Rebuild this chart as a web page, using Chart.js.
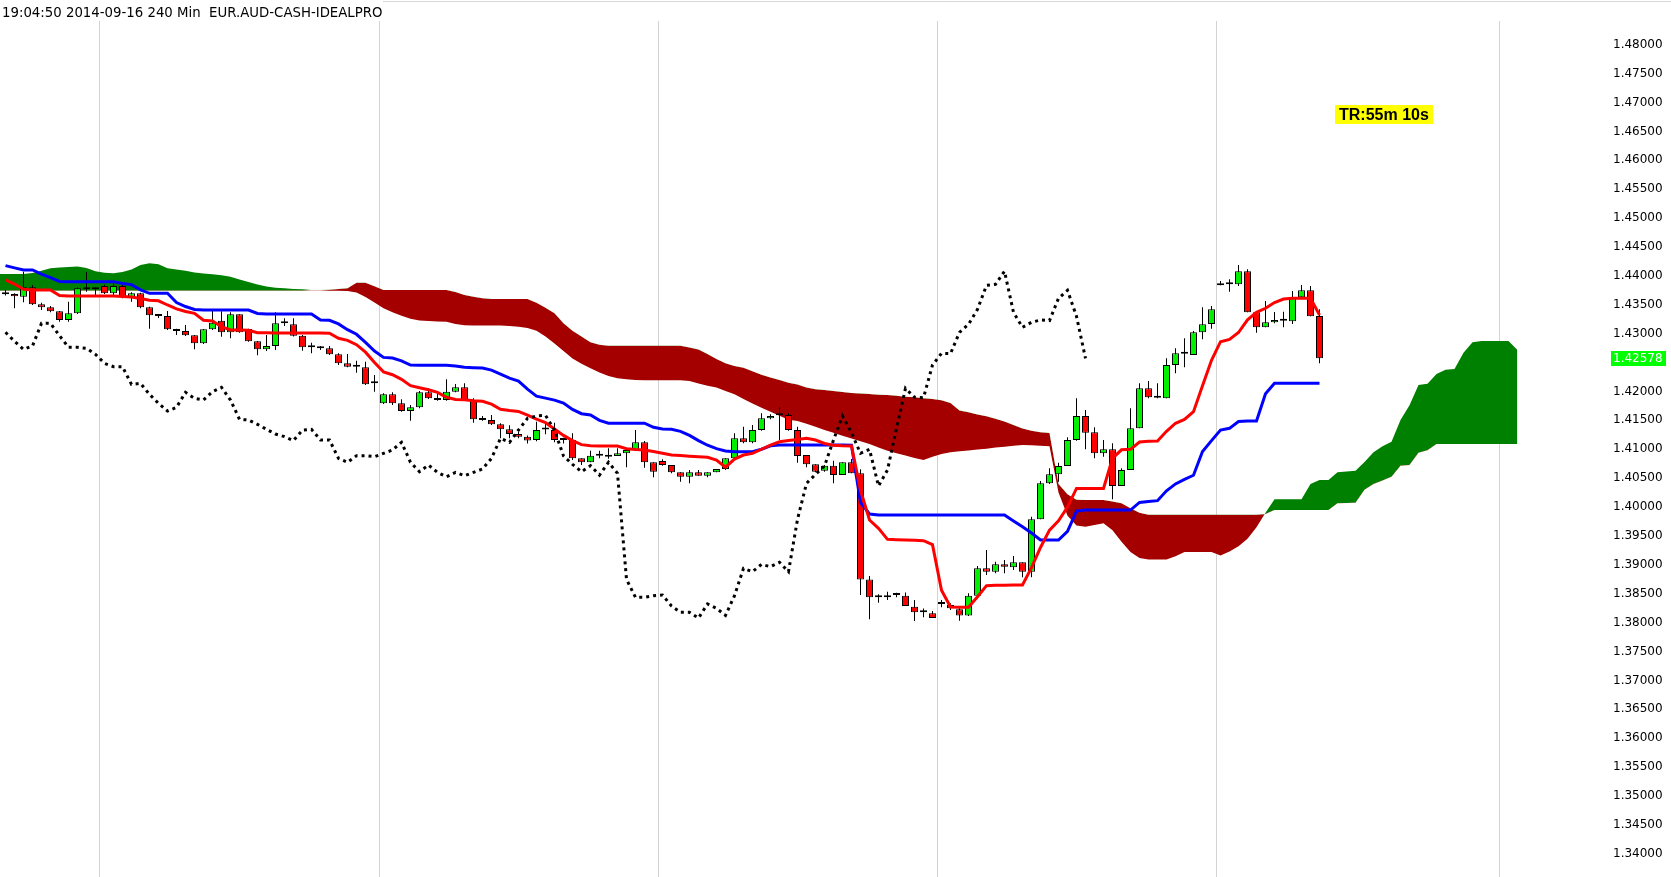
<!DOCTYPE html>
<html><head><meta charset="utf-8">
<script src="https://cdn.jsdelivr.net/npm/chart.js@4.4.1/dist/chart.umd.min.js"></script>
<style>html,body{margin:0;padding:0;background:#fff;overflow:hidden}canvas{display:block}</style>
</head><body>
<canvas id="c" width="1671" height="877"></canvas>
<script>
const headerText = '19:04:50 2014-09-16 240 Min  EUR.AUD-CASH-IDEALPRO';
const timerText = 'TR:55m 10s';
const lastPrice = 1.42578;
const lastPriceText = '1.42578';

const candleStart = 0;
const open = [1.43716,1.43687,1.43641,1.43803,1.43509,1.43457,1.43387,1.43237,1.43353,1.43768,
1.43768,1.43826,1.43699,1.43826,1.43641,1.43699,1.43457,1.43307,1.43307,1.43076,
1.43047,1.42972,1.42833,1.43076,1.43226,1.43024,1.43335,1.43082,1.42868,1.42730,
1.42787,1.43180,1.43162,1.42966,1.42764,1.42747,1.42747,1.42643,1.42487,1.42429,
1.42418,1.42141,1.41795,1.41950,1.41795,1.41662,1.41725,1.41985,1.41881,1.41852,
1.41997,1.42072,1.41852,1.41506,1.41506,1.41431,1.41345,1.41264,1.41218,1.41160,
1.41344,1.41333,1.41160,1.41160,1.40843,1.40774,1.40889,1.40872,1.40883,1.40929,
1.40987,1.41120,1.40774,1.40797,1.40727,1.40600,1.40525,1.40600,1.40543,1.40600,
1.40658,1.40843,1.41189,1.41120,1.41333,1.41535,1.41587,1.41593,1.41333,1.40900,
1.40739,1.40629,1.40716,1.40554,1.40774,1.40583,1.38748,1.38437,1.38437,1.38477,
1.38466,1.38275,1.38177,1.38160,1.38356,1.38304,1.38229,1.38125,1.38466,1.38939,
1.38881,1.39008,1.38956,1.39043,1.38881,1.39787,1.40410,1.40566,1.40710,1.41160,
1.41576,1.41293,1.40929,1.40999,1.40364,1.40641,1.41362,1.42055,1.41893,1.41881,
1.42458,1.42655,1.42632,1.43024,1.43168,1.43872,1.43855,1.43855,1.44080,1.43370,
1.43110,1.43197,1.43226,1.43214,1.43630,1.43751,1.43307];
const high = [1.43757,1.43699,1.44074,1.43843,1.43537,1.43480,1.43393,1.43555,1.43803,1.44068,
1.43803,1.43849,1.43872,1.43843,1.43716,1.43710,1.43468,1.43341,1.43393,1.43087,
1.43151,1.42978,1.43082,1.43393,1.43387,1.43370,1.43335,1.43087,1.42874,1.42978,
1.43370,1.43266,1.43266,1.42977,1.42845,1.42787,1.42787,1.42660,1.42649,1.42533,
1.42516,1.42285,1.41968,1.41985,1.41864,1.41766,1.42008,1.42054,1.41985,1.42210,
1.42130,1.42141,1.41881,1.41576,1.41593,1.41448,1.41414,1.41304,1.41240,1.41477,
1.41448,1.41460,1.41200,1.41276,1.40843,1.40975,1.40975,1.41016,1.41016,1.40987,
1.41333,1.41143,1.40774,1.40826,1.40727,1.40600,1.40641,1.40641,1.40600,1.40658,
1.40843,1.41276,1.41391,1.41420,1.41622,1.41605,1.41726,1.41622,1.41391,1.40900,
1.40739,1.40727,1.40802,1.40774,1.40831,1.40652,1.38806,1.38489,1.38535,1.38518,
1.38523,1.38391,1.38246,1.38200,1.38391,1.38333,1.38264,1.38506,1.38979,1.39256,
1.39054,1.39083,1.39152,1.39043,1.39833,1.40450,1.40670,1.40768,1.41206,1.41881,
1.41679,1.41379,1.41160,1.41103,1.40670,1.41708,1.42141,1.42181,1.42141,1.42574,
1.42747,1.42920,1.43047,1.43457,1.43480,1.43912,1.43941,1.44189,1.44114,1.43370,
1.43566,1.43376,1.43382,1.43739,1.43843,1.43826,1.43422];
const low = [1.43659,1.43439,1.43543,1.43497,1.43410,1.43370,1.43209,1.43209,1.43341,1.43728,
1.43670,1.43687,1.43659,1.43612,1.43555,1.43439,1.43087,1.43272,1.43064,1.42978,
1.42960,1.42730,1.42822,1.43064,1.42949,1.42920,1.43018,1.42862,1.42626,1.42701,
1.42718,1.43133,1.42950,1.42706,1.42660,1.42718,1.42631,1.42458,1.42418,1.42326,
1.42112,1.41996,1.41783,1.41766,1.41650,1.41495,1.41708,1.41869,1.41840,1.41840,
1.41985,1.41840,1.41460,1.41495,1.41420,1.41189,1.41189,1.41189,1.41100,1.41140,
1.41260,1.41120,1.41100,1.40814,1.40727,1.40774,1.40843,1.40837,1.40883,1.40687,
1.40970,1.40681,1.40514,1.40716,1.40583,1.40439,1.40410,1.40543,1.40514,1.40600,
1.40641,1.40843,1.41102,1.41102,1.41322,1.41518,1.41160,1.41322,1.40768,1.40687,
1.40600,1.40612,1.40410,1.40554,1.40583,1.38477,1.38056,1.38345,1.38391,1.38437,
1.38287,1.38027,1.38091,1.38079,1.38264,1.38218,1.38033,1.38113,1.38466,1.38823,
1.38852,1.38852,1.38910,1.38783,1.38783,1.39787,1.40398,1.40439,1.40710,1.41149,
1.40999,1.40843,1.40872,1.40133,1.40364,1.40641,1.41362,1.41881,1.41881,1.41881,
1.42314,1.42418,1.42632,1.42903,1.43087,1.43837,1.43728,1.43826,1.43370,1.43018,
1.43110,1.43180,1.43110,1.43168,1.43630,1.43301,1.42487];
const close = [1.43682,1.43647,1.43803,1.43509,1.43457,1.43387,1.43237,1.43353,1.43786,1.43768,
1.43768,1.43699,1.43826,1.43641,1.43699,1.43457,1.43318,1.43307,1.43076,1.43047,
1.42972,1.42833,1.43076,1.43191,1.43024,1.43335,1.43024,1.42868,1.42730,1.42787,
1.43180,1.43180,1.42966,1.42764,1.42764,1.42747,1.42643,1.42487,1.42429,1.42429,
1.42123,1.42141,1.41950,1.41795,1.41662,1.41725,1.41985,1.41881,1.41852,1.41997,
1.42072,1.41852,1.41518,1.41506,1.41431,1.41345,1.41264,1.41218,1.41150,1.41333,
1.41344,1.41160,1.41160,1.40843,1.40774,1.40889,1.40889,1.40872,1.40929,1.40987,
1.41120,1.40774,1.40612,1.40727,1.40600,1.40525,1.40600,1.40543,1.40600,1.40658,
1.40843,1.41189,1.41120,1.41333,1.41535,1.41576,1.41587,1.41333,1.40883,1.40739,
1.40612,1.40716,1.40554,1.40774,1.40583,1.38748,1.38437,1.38437,1.38466,1.38477,
1.38287,1.38177,1.38177,1.38079,1.38322,1.38247,1.38125,1.38466,1.38939,1.38881,
1.39008,1.38968,1.39043,1.38881,1.39787,1.40410,1.40566,1.40710,1.41160,1.41576,
1.41287,1.40929,1.40999,1.40364,1.40641,1.41362,1.42055,1.41899,1.41893,1.42458,
1.42660,1.42655,1.43024,1.43162,1.43422,1.43837,1.43855,1.44080,1.43370,1.43110,
1.43197,1.43237,1.43226,1.43612,1.43751,1.43301,1.42574];

const tenkan = [1.43930,1.43860,1.43768,1.43757,1.43757,1.43757,1.43660,1.43653,1.43653,1.43653,
1.43653,1.43653,1.43653,1.43645,1.43635,1.43610,1.43580,1.43570,1.43497,1.43430,
1.43385,1.43353,1.43232,1.43220,1.43120,1.43064,1.43064,1.43060,1.43018,1.43015,
1.43010,1.43010,1.43010,1.43010,1.43010,1.43010,1.43008,1.42920,1.42885,1.42810,
1.42680,1.42500,1.42340,1.42290,1.42210,1.42100,1.42065,1.42030,1.41985,1.41900,
1.41860,1.41855,1.41840,1.41830,1.41780,1.41691,1.41670,1.41655,1.41590,1.41520,
1.41460,1.41350,1.41240,1.41150,1.41080,1.41060,1.41056,1.41056,1.41056,1.41010,
1.40995,1.40987,1.40960,1.40930,1.40900,1.40890,1.40880,1.40870,1.40862,1.40814,
1.40690,1.40830,1.40900,1.40929,1.41000,1.41070,1.41130,1.41150,1.41170,1.41189,
1.41160,1.41100,1.41070,1.41060,1.41056,1.40290,1.39775,1.39631,1.39441,1.39435,
1.39430,1.39425,1.39418,1.39350,1.38560,1.38270,1.38265,1.38264,1.38448,1.38639,
1.38645,1.38648,1.38650,1.38650,1.38950,1.39300,1.39600,1.39760,1.40000,1.40323,
1.40323,1.40323,1.40323,1.40843,1.40990,1.40999,1.41125,1.41140,1.41143,1.41310,
1.41450,1.41515,1.41650,1.42100,1.42540,1.42862,1.42900,1.43020,1.43240,1.43370,
1.43440,1.43540,1.43600,1.43612,1.43612,1.43612,1.43324];
const kijun = [1.44178,1.44140,1.44103,1.44103,1.44030,1.43970,1.43905,1.43901,1.43901,1.43901,
1.43901,1.43901,1.43901,1.43870,1.43850,1.43760,1.43699,1.43699,1.43699,1.43540,
1.43470,1.43420,1.43410,1.43410,1.43410,1.43410,1.43410,1.43410,1.43350,1.43341,
1.43341,1.43341,1.43341,1.43341,1.43341,1.43237,1.43232,1.43170,1.43070,1.42990,
1.42850,1.42700,1.42590,1.42578,1.42530,1.42458,1.42452,1.42452,1.42452,1.42452,
1.42440,1.42420,1.42412,1.42405,1.42370,1.42300,1.42230,1.42180,1.42040,1.41920,
1.41885,1.41850,1.41800,1.41690,1.41615,1.41593,1.41500,1.41452,1.41452,1.41452,
1.41452,1.41452,1.41380,1.41350,1.41345,1.41310,1.41240,1.41150,1.41070,1.41010,
1.40970,1.40958,1.40958,1.40958,1.41000,1.41060,1.41074,1.41074,1.41074,1.41074,
1.41074,1.41074,1.41074,1.41074,1.41070,1.40080,1.39880,1.39862,1.39862,1.39862,
1.39862,1.39862,1.39862,1.39862,1.39862,1.39862,1.39862,1.39862,1.39862,1.39862,
1.39862,1.39862,1.39760,1.39660,1.39550,1.39430,1.39429,1.39429,1.39580,1.39930,
1.39948,1.39948,1.39948,1.39948,1.39948,1.39948,1.40080,1.40095,1.40110,1.40280,
1.40400,1.40480,1.40550,1.40960,1.41150,1.41333,1.41362,1.41480,1.41489,1.41489,
1.41960,1.42141,1.42141,1.42141,1.42141,1.42141,1.42141];

const chikouStart = 0;
const chikou = [1.43024,1.42868,1.42730,1.42787,1.43180,1.43180,1.42966,1.42764,1.42764,1.42747,
1.42643,1.42487,1.42429,1.42429,1.42123,1.42141,1.41950,1.41795,1.41662,1.41725,
1.41985,1.41881,1.41852,1.41997,1.42072,1.41852,1.41518,1.41506,1.41431,1.41345,
1.41264,1.41218,1.41150,1.41333,1.41344,1.41160,1.41160,1.40843,1.40774,1.40889,
1.40889,1.40872,1.40929,1.40987,1.41120,1.40774,1.40612,1.40727,1.40600,1.40525,
1.40600,1.40543,1.40600,1.40658,1.40843,1.41189,1.41120,1.41333,1.41535,1.41576,
1.41587,1.41333,1.40883,1.40739,1.40612,1.40716,1.40554,1.40774,1.40583,1.38748,
1.38437,1.38437,1.38466,1.38477,1.38287,1.38177,1.38177,1.38079,1.38322,1.38247,
1.38125,1.38466,1.38939,1.38881,1.39008,1.38968,1.39043,1.38881,1.39787,1.40410,
1.40566,1.40710,1.41160,1.41576,1.41287,1.40929,1.40999,1.40364,1.40641,1.41362,
1.42055,1.41899,1.41893,1.42458,1.42660,1.42655,1.43024,1.43162,1.43422,1.43837,
1.43855,1.44080,1.43370,1.43110,1.43197,1.43237,1.43226,1.43612,1.43751,1.43301,
1.42574];

const cloudStart = -1;
const senkouA = [1.44034,1.44034,1.44034,1.44034,1.44050,1.44090,1.44132,1.44145,1.44155,1.44161,
1.44135,1.44080,1.44055,1.44045,1.44070,1.44110,1.44189,1.44218,1.44200,1.44132,
1.44110,1.44090,1.44060,1.44040,1.44030,1.44010,1.43985,1.43940,1.43895,1.43850,
1.43815,1.43795,1.43786,1.43775,1.43768,1.43758,1.43750,1.43745,1.43742,1.43740,
1.43714,1.43637,1.43540,1.43439,1.43370,1.43310,1.43260,1.43230,1.43220,1.43212,
1.43205,1.43170,1.43148,1.43140,1.43140,1.43140,1.43140,1.43135,1.43120,1.43100,
1.43050,1.42950,1.42830,1.42700,1.42570,1.42480,1.42400,1.42330,1.42270,1.42230,
1.42210,1.42200,1.42195,1.42195,1.42195,1.42195,1.42195,1.42180,1.42140,1.42100,
1.42070,1.42010,1.41950,1.41870,1.41790,1.41720,1.41650,1.41580,1.41510,1.41490,
1.41440,1.41390,1.41333,1.41285,1.41235,1.41185,1.41140,1.41090,1.41030,1.40975,
1.40930,1.40890,1.40850,1.40814,1.40870,1.40920,1.40950,1.40965,1.40980,1.40995,
1.41010,1.41030,1.41045,1.41060,1.41074,1.41070,1.41060,1.41050,1.40250,1.39850,
1.39680,1.39660,1.39690,1.39720,1.39600,1.39400,1.39220,1.39120,1.39090,1.39090,
1.39090,1.39150,1.39220,1.39220,1.39220,1.39220,1.39160,1.39230,1.39320,1.39450,
1.39650,1.39900,1.40133,1.40133,1.40133,1.40133,1.40398,1.40468,1.40468,1.40600,
1.40615,1.40629,1.40780,1.40950,1.41050,1.41131,1.41506,1.41760,1.42112,1.42135,
1.42302,1.42375,1.42389,1.42670,1.42851,1.42874,1.42874,1.42874,1.42874,1.42718];
const senkouB = [1.43745,1.43745,1.43745,1.43745,1.43745,1.43745,1.43745,1.43745,1.43745,1.43745,
1.43745,1.43745,1.43745,1.43745,1.43745,1.43745,1.43745,1.43745,1.43745,1.43745,
1.43745,1.43745,1.43745,1.43745,1.43745,1.43745,1.43745,1.43745,1.43745,1.43745,
1.43745,1.43745,1.43745,1.43745,1.43745,1.43750,1.43756,1.43760,1.43775,1.43785,
1.43880,1.43880,1.43820,1.43756,1.43756,1.43756,1.43756,1.43756,1.43756,1.43756,
1.43756,1.43720,1.43670,1.43640,1.43615,1.43600,1.43600,1.43600,1.43600,1.43600,
1.43535,1.43450,1.43352,1.43180,1.43050,1.42950,1.42850,1.42810,1.42790,1.42790,
1.42790,1.42790,1.42790,1.42790,1.42790,1.42790,1.42790,1.42760,1.42725,1.42650,
1.42560,1.42490,1.42440,1.42411,1.42350,1.42290,1.42240,1.42200,1.42150,1.42120,
1.42070,1.42040,1.42026,1.42010,1.41990,1.41975,1.41965,1.41955,1.41945,1.41940,
1.41925,1.41910,1.41900,1.41885,1.41870,1.41850,1.41800,1.41670,1.41640,1.41600,
1.41570,1.41530,1.41480,1.41420,1.41360,1.41320,1.41295,1.41280,1.40400,1.40220,
1.40125,1.40122,1.40122,1.40122,1.40095,1.40064,1.39980,1.39900,1.39865,1.39865,
1.39865,1.39865,1.39865,1.39865,1.39865,1.39865,1.39865,1.39865,1.39865,1.39865,
1.39865,1.39880,1.39948,1.39948,1.39948,1.39948,1.39948,1.39948,1.39948,1.40064,
1.40070,1.40075,1.40300,1.40398,1.40460,1.40525,1.40716,1.40727,1.40941,1.40985,
1.41091,1.41091,1.41091,1.41091,1.41091,1.41091,1.41091,1.41091,1.41091,1.41091];

const gridTicks = [10.5, 41.54, 72.57, 103.59, 134.57, 166.0];
const xMin = -0.6111, xMax = 172.7222;
const yMin = 1.33597, yMax = 1.48412, yStep = 0.005;

const toXY = (start, arr) => arr.map((v, i) => ({x: start + i, y: v}));
const wickData = high.map((h, i) => ({x: candleStart + i, y: [low[i], h]}));
const bodyData = open.map((o, i) => ({x: candleStart + i, y: [o, close[i]]}));
const bodyColors = open.map((o, i) => close[i] >= o ? '#00F000' : '#FF0000');

const overlay = {
  id: 'overlay',
  afterDraw(chart) {
    const ctx = chart.ctx;
    ctx.save();
    ctx.strokeStyle = '#D8D8D8'; ctx.lineWidth = 1;
    ctx.beginPath(); ctx.moveTo(383, 1.5); ctx.lineTo(1671, 1.5); ctx.stroke();
    ctx.fillStyle = '#000'; ctx.font = '13.3px "DejaVu Sans"'; ctx.textBaseline = 'alphabetic';
    ctx.fillText(headerText, 2, 17);
    ctx.fillStyle = '#FFFF00'; ctx.fillRect(1335, 105, 98, 19);
    ctx.fillStyle = '#000'; ctx.font = 'bold 16px "Liberation Sans"';
    ctx.fillText(timerText, 1339, 120);
    const yp = chart.scales.y.getPixelForValue(lastPrice);
    ctx.fillStyle = '#00FF00'; ctx.fillRect(1611, Math.round(yp) - 7, 55, 15);
    ctx.fillStyle = '#FFFFFF'; ctx.font = '12px "DejaVu Sans"'; ctx.textBaseline = 'middle';
    ctx.fillText(lastPriceText, 1613, Math.round(yp) + 0.5);
    ctx.restore();
  }
};

new Chart(document.getElementById('c'), {
  type: 'bar',
  data: {
    datasets: [
      {type: 'line', label: 'Chikou', data: toXY(chikouStart, chikou), borderColor: '#000', borderWidth: 3,
       borderDash: [3, 4], pointRadius: 0, tension: 0, fill: false, order: 0},
      {type: 'line', label: 'Tenkan', data: toXY(candleStart, tenkan), borderColor: '#FF0000', borderWidth: 3,
       pointRadius: 0, tension: 0, fill: false, order: 1},
      {type: 'line', label: 'Kijun', data: toXY(candleStart, kijun), borderColor: '#0000FF', borderWidth: 3,
       pointRadius: 0, tension: 0, fill: false, order: 2},
      {type: 'bar', label: 'Body', data: bodyData, backgroundColor: bodyColors, borderColor: '#000', borderWidth: 1,
       borderSkipped: false, barThickness: 7, minBarLength: 2, grouped: false, inflateAmount: 0, order: 3},
      {type: 'bar', label: 'Wick', data: wickData, backgroundColor: '#000', borderWidth: 0,
       barThickness: 1, grouped: false, inflateAmount: 0, order: 4},
      {type: 'line', label: 'SenkouA', data: toXY(cloudStart, senkouA), borderWidth: 0, borderColor: 'rgba(0,0,0,0)',
       pointRadius: 0, tension: 0, fill: {target: '+1', above: '#008000', below: '#A50000'}, order: 5},
      {type: 'line', label: 'SenkouB', data: toXY(cloudStart, senkouB), borderWidth: 0, borderColor: 'rgba(0,0,0,0)',
       pointRadius: 0, tension: 0, fill: false, order: 6}
    ]
  },
  options: {
    responsive: false, animation: false, devicePixelRatio: 1,
    layout: {padding: {top: 21, left: 0, right: 0, bottom: 0}},
    plugins: {legend: {display: false}, tooltip: {enabled: false}, title: {display: false}},
    scales: {
      x: {type: 'linear', min: xMin, max: xMax, offset: false,
          grid: {color: '#D3D3D3', lineWidth: 1, drawTicks: false, offset: false},
          border: {display: false}, ticks: {display: false, padding: 0},
          afterBuildTicks: s => { s.ticks = gridTicks.map(v => ({value: v})); },
          afterFit: s => { s.height = 0; s.paddingLeft = 0; s.paddingRight = 0; }},
      y: {type: 'linear', position: 'right', min: yMin, max: yMax,
          grid: {display: false, drawTicks: false}, border: {display: false},
          ticks: {stepSize: yStep, includeBounds: false, autoSkip: false, padding: 53, color: '#000',
                  font: {family: 'DejaVu Sans', size: 12}, callback: v => Number(v).toFixed(5)},
          afterFit: s => { s.width = 111; s.paddingTop = 0; s.paddingBottom = 0; }}
    }
  },
  plugins: [overlay]
});
</script>
</body></html>
